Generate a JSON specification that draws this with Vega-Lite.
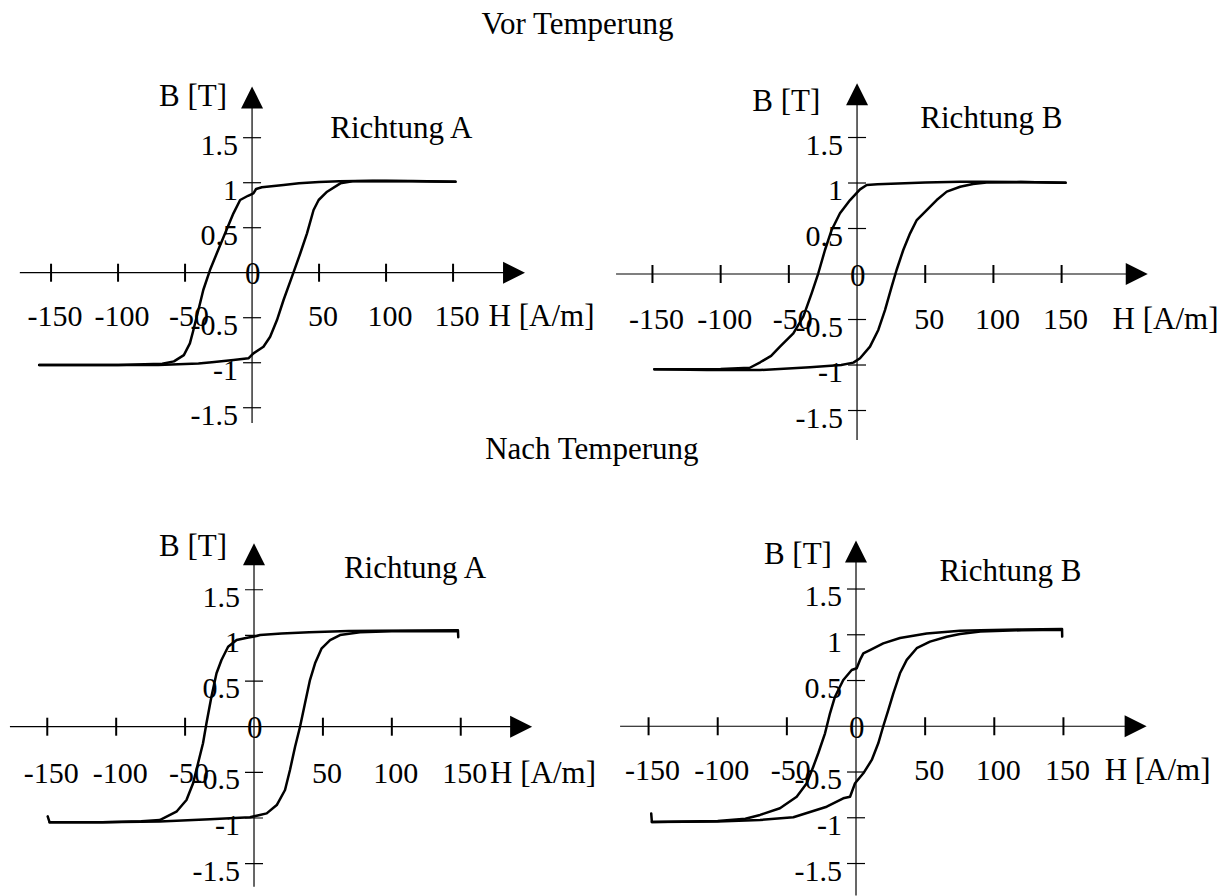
{
  "$schema": "https://vega.github.io/schema/vega-lite/v6.json",
  "padding": 0,
  "background": "white",
  "spacing": 0,
  "columns": 2,
  "bounds": "flush",
  "config": {"view": {"stroke": null}, "concat": {"spacing": 0}},
  "resolve": {"scale": {"x": "independent", "y": "independent"}},
  "datasets": {
    "xt": [{"v": -150, "t": "-150"}, {"v": -100, "t": "-100"}, {"v": -50, "t": "-50"}, {"v": 50, "t": "50"}, {"v": 100, "t": "100"}, {"v": 150, "t": "150"}],
    "yt": [{"v": 1.5, "t": "1.5"}, {"v": 1, "t": "1"}, {"v": 0.5, "t": "0.5"}, {"v": -0.5, "t": "-0.5"}, {"v": -1, "t": "-1"}, {"v": -1.5, "t": "-1.5"}],
    "axes": [
      {"p": 1, "x1": -173.3, "x2": 195.5, "y1": 0, "y2": 0}, {"p": 1, "x1": 0, "x2": 0, "y1": -1.67, "y2": 1.948},
      {"p": 2, "x1": -176.7, "x2": 205.1, "y1": 0, "y2": 0}, {"p": 2, "x1": 0, "x2": 0, "y1": -1.824, "y2": 1.976},
      {"p": 3, "x1": -177.1, "x2": 193.8, "y1": 0, "y2": 0}, {"p": 3, "x1": 0, "x2": 0, "y1": -1.752, "y2": 1.889},
      {"p": 4, "x1": -170.6, "x2": 202.2, "y1": 0, "y2": 0}, {"p": 4, "x1": 0, "x2": 0, "y1": -1.85, "y2": 1.91}
    ],
    "arrows": [
      {"p": 1, "H": 195.5, "B": 0, "d": "r"}, {"p": 1, "H": 0, "B": 1.948, "d": "u"},
      {"p": 2, "H": 205.1, "B": 0, "d": "r"}, {"p": 2, "H": 0, "B": 1.976, "d": "u"},
      {"p": 3, "H": 193.8, "B": 0, "d": "r"}, {"p": 3, "H": 0, "B": 1.889, "d": "u"},
      {"p": 4, "H": 202.2, "B": 0, "d": "r"}, {"p": 4, "H": 0, "B": 1.91, "d": "u"}
    ],
    "tx": [
      {"p": 1, "k": "c", "H": 111.4, "B": 1.602, "t": "Richtung A"},
      {"p": 1, "k": "c", "H": 0.5, "B": -0.03, "t": "0"},
      {"p": 1, "k": "c", "H": 242.9, "B": 2.747, "t": "Vor Temperung"},
      {"p": 1, "k": "r", "H": -18.7, "B": 1.947, "t": "B [T]"},
      {"p": 1, "k": "l", "H": 176.5, "B": 0, "t": "H [A/m]"},
      {"p": 2, "k": "c", "H": 98.5, "B": 1.703, "t": "Richtung B"},
      {"p": 2, "k": "c", "H": 0.5, "B": -0.03, "t": "0"},
      {"p": 2, "k": "r", "H": -26.9, "B": 1.893, "t": "B [T]"},
      {"p": 2, "k": "l", "H": 187.4, "B": 0, "t": "H [A/m]"},
      {"p": 3, "k": "c", "H": 116.8, "B": 1.727, "t": "Richtung A"},
      {"p": 3, "k": "c", "H": 0.5, "B": -0.03, "t": "0"},
      {"p": 3, "k": "c", "H": 245.1, "B": 3.031, "t": "Nach Temperung"},
      {"p": 3, "k": "r", "H": -19.6, "B": 1.963, "t": "B [T]"},
      {"p": 3, "k": "l", "H": 171.3, "B": 0, "t": "H [A/m]"},
      {"p": 4, "k": "c", "H": 111.7, "B": 1.681, "t": "Richtung B"},
      {"p": 4, "k": "c", "H": 0.5, "B": -0.03, "t": "0"},
      {"p": 4, "k": "r", "H": -17.4, "B": 1.872, "t": "B [T]"},
      {"p": 4, "k": "l", "H": 179.8, "B": 0, "t": "H [A/m]"}
    ],
    "curves": [
      {"p":1,"b":"d","i":0,"H":151.8,"B":1.011},{"p":1,"b":"d","i":1,"H":120,"B":1.02},{"p":1,"b":"d","i":2,"H":90,"B":1.022},{"p":1,"b":"d","i":3,"H":65,"B":1.015},{"p":1,"b":"d","i":4,"H":50,"B":1.008},{"p":1,"b":"d","i":5,"H":35,"B":0.995},{"p":1,"b":"d","i":6,"H":23.5,"B":0.974},{"p":1,"b":"d","i":7,"H":7.3,"B":0.949},{"p":1,"b":"d","i":8,"H":3,"B":0.93},{"p":1,"b":"d","i":9,"H":1,"B":0.882},{"p":1,"b":"d","i":10,"H":-3,"B":0.855},{"p":1,"b":"d","i":11,"H":-8.9,"B":0.808},{"p":1,"b":"d","i":12,"H":-13.9,"B":0.66},{"p":1,"b":"d","i":13,"H":-20.1,"B":0.438},{"p":1,"b":"d","i":14,"H":-26.3,"B":0.216},{"p":1,"b":"d","i":15,"H":-31.4,"B":0.03},{"p":1,"b":"d","i":16,"H":-36.4,"B":-0.192},{"p":1,"b":"d","i":17,"H":-38.8,"B":-0.34},{"p":1,"b":"d","i":18,"H":-41.5,"B":-0.5},{"p":1,"b":"d","i":19,"H":-44,"B":-0.65},{"p":1,"b":"d","i":20,"H":-46.4,"B":-0.785},{"p":1,"b":"d","i":21,"H":-50.9,"B":-0.915},{"p":1,"b":"d","i":22,"H":-58.3,"B":-0.985},{"p":1,"b":"d","i":23,"H":-67,"B":-1.012},{"p":1,"b":"d","i":24,"H":-100,"B":-1.024},{"p":1,"b":"d","i":25,"H":-130,"B":-1.026},{"p":1,"b":"d","i":26,"H":-158.9,"B":-1.026},
      {"p":1,"b":"a","i":0,"H":-158.9,"B":-1.026},{"p":1,"b":"a","i":1,"H":-100,"B":-1.026},{"p":1,"b":"a","i":2,"H":-70,"B":-1.024},{"p":1,"b":"a","i":3,"H":-40,"B":-1.008},{"p":1,"b":"a","i":4,"H":-30,"B":-0.995},{"p":1,"b":"a","i":5,"H":-13.9,"B":-0.97},{"p":1,"b":"a","i":6,"H":-2.7,"B":-0.951},{"p":1,"b":"a","i":7,"H":1,"B":-0.896},{"p":1,"b":"a","i":8,"H":8.5,"B":-0.822},{"p":1,"b":"a","i":9,"H":13.5,"B":-0.711},{"p":1,"b":"a","i":10,"H":18.6,"B":-0.526},{"p":1,"b":"a","i":11,"H":23.5,"B":-0.303},{"p":1,"b":"a","i":12,"H":29.8,"B":-0.044},{"p":1,"b":"a","i":13,"H":36,"B":0.216},{"p":1,"b":"a","i":14,"H":41,"B":0.438},{"p":1,"b":"a","i":15,"H":45.9,"B":0.697},{"p":1,"b":"a","i":16,"H":49.7,"B":0.808},{"p":1,"b":"a","i":17,"H":56,"B":0.9},{"p":1,"b":"a","i":18,"H":65.9,"B":0.993},{"p":1,"b":"a","i":19,"H":75,"B":1.015},{"p":1,"b":"a","i":20,"H":100,"B":1.02},{"p":1,"b":"a","i":21,"H":151.8,"B":1.011},
      {"p":2,"b":"d","i":0,"H":152.9,"B":1.004},{"p":2,"b":"d","i":1,"H":120,"B":1.01},{"p":2,"b":"d","i":2,"H":90,"B":1.014},{"p":2,"b":"d","i":3,"H":75.6,"B":1.014},{"p":2,"b":"d","i":4,"H":50,"B":1.005},{"p":2,"b":"d","i":5,"H":30,"B":0.995},{"p":2,"b":"d","i":6,"H":15,"B":0.985},{"p":2,"b":"d","i":7,"H":7.1,"B":0.978},{"p":2,"b":"d","i":8,"H":2.2,"B":0.93},{"p":2,"b":"d","i":9,"H":-5.1,"B":0.813},{"p":2,"b":"d","i":10,"H":-12.5,"B":0.667},{"p":2,"b":"d","i":11,"H":-18.6,"B":0.484},{"p":2,"b":"d","i":12,"H":-23.5,"B":0.264},{"p":2,"b":"d","i":13,"H":-28.4,"B":0.008},{"p":2,"b":"d","i":14,"H":-33.3,"B":-0.212},{"p":2,"b":"d","i":15,"H":-39.4,"B":-0.469},{"p":2,"b":"d","i":16,"H":-46.7,"B":-0.652},{"p":2,"b":"d","i":17,"H":-56.5,"B":-0.798},{"p":2,"b":"d","i":18,"H":-63,"B":-0.9},{"p":2,"b":"d","i":19,"H":-71,"B":-0.97},{"p":2,"b":"d","i":20,"H":-78.6,"B":-1.03},{"p":2,"b":"d","i":21,"H":-100,"B":-1.045},{"p":2,"b":"d","i":22,"H":-148.6,"B":-1.047},
      {"p":2,"b":"a","i":0,"H":-148.6,"B":-1.047},{"p":2,"b":"a","i":1,"H":-110,"B":-1.055},{"p":2,"b":"a","i":2,"H":-71.1,"B":-1.055},{"p":2,"b":"a","i":3,"H":-34.5,"B":-1.025},{"p":2,"b":"a","i":4,"H":-11.6,"B":-1.0},{"p":2,"b":"a","i":5,"H":-2.7,"B":-0.974},{"p":2,"b":"a","i":6,"H":2.2,"B":-0.926},{"p":2,"b":"a","i":7,"H":9.5,"B":-0.798},{"p":2,"b":"a","i":8,"H":15.6,"B":-0.615},{"p":2,"b":"a","i":9,"H":20.5,"B":-0.396},{"p":2,"b":"a","i":10,"H":25.4,"B":-0.139},{"p":2,"b":"a","i":11,"H":29,"B":0.044},{"p":2,"b":"a","i":12,"H":33.9,"B":0.264},{"p":2,"b":"a","i":13,"H":38.9,"B":0.447},{"p":2,"b":"a","i":14,"H":43.8,"B":0.593},{"p":2,"b":"a","i":15,"H":51.1,"B":0.703},{"p":2,"b":"a","i":16,"H":58.4,"B":0.813},{"p":2,"b":"a","i":17,"H":65.8,"B":0.905},{"p":2,"b":"a","i":18,"H":75.6,"B":0.959},{"p":2,"b":"a","i":19,"H":85,"B":0.99},{"p":2,"b":"a","i":20,"H":95,"B":1.005},{"p":2,"b":"a","i":21,"H":120,"B":1.01},{"p":2,"b":"a","i":22,"H":152.9,"B":1.004},
      {"p":3,"b":"d","i":0,"H":148,"B":1.055},{"p":3,"b":"d","i":1,"H":120,"B":1.053},{"p":3,"b":"d","i":2,"H":90,"B":1.05},{"p":3,"b":"d","i":3,"H":68.5,"B":1.047},{"p":3,"b":"d","i":4,"H":40,"B":1.035},{"p":3,"b":"d","i":5,"H":20,"B":1.02},{"p":3,"b":"d","i":6,"H":4.4,"B":1.004},{"p":3,"b":"d","i":7,"H":1.9,"B":0.993},{"p":3,"b":"d","i":8,"H":-5,"B":0.975},{"p":3,"b":"d","i":9,"H":-12.6,"B":0.95},{"p":3,"b":"d","i":10,"H":-18.8,"B":0.876},{"p":3,"b":"d","i":11,"H":-23.6,"B":0.73},{"p":3,"b":"d","i":12,"H":-27.2,"B":0.585},{"p":3,"b":"d","i":13,"H":-30.9,"B":0.329},{"p":3,"b":"d","i":14,"H":-34.5,"B":0.037},{"p":3,"b":"d","i":15,"H":-37,"B":-0.182},{"p":3,"b":"d","i":16,"H":-40.6,"B":-0.401},{"p":3,"b":"d","i":17,"H":-44.2,"B":-0.62},{"p":3,"b":"d","i":18,"H":-49,"B":-0.803},{"p":3,"b":"d","i":19,"H":-56.3,"B":-0.931},{"p":3,"b":"d","i":20,"H":-68.4,"B":-1.022},{"p":3,"b":"d","i":21,"H":-81.8,"B":-1.036},{"p":3,"b":"d","i":22,"H":-110,"B":-1.045},{"p":3,"b":"d","i":23,"H":-148.3,"B":-1.047},
      {"p":3,"b":"a","i":0,"H":-149.7,"B":-0.982},{"p":3,"b":"a","i":1,"H":-148.3,"B":-1.047},{"p":3,"b":"a","i":2,"H":-110,"B":-1.045},{"p":3,"b":"a","i":3,"H":-68.4,"B":-1.038},{"p":3,"b":"a","i":4,"H":-32,"B":-1.014},{"p":3,"b":"a","i":5,"H":-2.9,"B":-0.992},{"p":3,"b":"a","i":6,"H":9.2,"B":-0.949},{"p":3,"b":"a","i":7,"H":16.5,"B":-0.858},{"p":3,"b":"a","i":8,"H":22.5,"B":-0.693},{"p":3,"b":"a","i":9,"H":26.1,"B":-0.474},{"p":3,"b":"a","i":10,"H":29.8,"B":-0.219},{"p":3,"b":"a","i":11,"H":33.4,"B":0},{"p":3,"b":"a","i":12,"H":37,"B":0.256},{"p":3,"b":"a","i":13,"H":40.6,"B":0.511},{"p":3,"b":"a","i":14,"H":44.3,"B":0.694},{"p":3,"b":"a","i":15,"H":49.1,"B":0.858},{"p":3,"b":"a","i":16,"H":55.2,"B":0.949},{"p":3,"b":"a","i":17,"H":62.4,"B":1.004},{"p":3,"b":"a","i":18,"H":76.9,"B":1.035},{"p":3,"b":"a","i":19,"H":100,"B":1.045},{"p":3,"b":"a","i":20,"H":148,"B":1.047},{"p":3,"b":"a","i":21,"H":148.2,"B":0.98},
      {"p":4,"b":"d","i":0,"H":149,"B":1.062},{"p":4,"b":"d","i":1,"H":120,"B":1.058},{"p":4,"b":"d","i":2,"H":90,"B":1.05},{"p":4,"b":"d","i":3,"H":75.2,"B":1.045},{"p":4,"b":"d","i":4,"H":51.1,"B":1.015},{"p":4,"b":"d","i":5,"H":31.8,"B":0.965},{"p":4,"b":"d","i":6,"H":19.7,"B":0.906},{"p":4,"b":"d","i":7,"H":10.1,"B":0.833},{"p":4,"b":"d","i":8,"H":5.3,"B":0.797},{"p":4,"b":"d","i":9,"H":2.9,"B":0.725},{"p":4,"b":"d","i":10,"H":0.5,"B":0.634},{"p":4,"b":"d","i":11,"H":-3.1,"B":0.615},{"p":4,"b":"d","i":12,"H":-9.2,"B":0.506},{"p":4,"b":"d","i":13,"H":-15.2,"B":0.323},{"p":4,"b":"d","i":14,"H":-18.8,"B":0.142},{"p":4,"b":"d","i":15,"H":-22.4,"B":-0.077},{"p":4,"b":"d","i":16,"H":-27.3,"B":-0.295},{"p":4,"b":"d","i":17,"H":-30.9,"B":-0.442},{"p":4,"b":"d","i":18,"H":-35.6,"B":-0.623},{"p":4,"b":"d","i":19,"H":-42.9,"B":-0.77},{"p":4,"b":"d","i":20,"H":-55,"B":-0.896},{"p":4,"b":"d","i":21,"H":-69.4,"B":-0.969},{"p":4,"b":"d","i":22,"H":-80,"B":-1.01},{"p":4,"b":"d","i":23,"H":-100,"B":-1.035},{"p":4,"b":"d","i":24,"H":-147.6,"B":-1.047},
      {"p":4,"b":"a","i":0,"H":-148.1,"B":-0.953},{"p":4,"b":"a","i":1,"H":-147.6,"B":-1.047},{"p":4,"b":"a","i":2,"H":-100,"B":-1.04},{"p":4,"b":"a","i":3,"H":-69.4,"B":-1.024},{"p":4,"b":"a","i":4,"H":-45.3,"B":-0.995},{"p":4,"b":"a","i":5,"H":-21.2,"B":-0.879},{"p":4,"b":"a","i":6,"H":-9.2,"B":-0.787},{"p":4,"b":"a","i":7,"H":-4.3,"B":-0.77},{"p":4,"b":"a","i":8,"H":-0.7,"B":-0.623},{"p":4,"b":"a","i":9,"H":5.3,"B":-0.514},{"p":4,"b":"a","i":10,"H":11.4,"B":-0.368},{"p":4,"b":"a","i":11,"H":16.1,"B":-0.186},{"p":4,"b":"a","i":12,"H":19.7,"B":0},{"p":4,"b":"a","i":13,"H":23.4,"B":0.178},{"p":4,"b":"a","i":14,"H":27,"B":0.36},{"p":4,"b":"a","i":15,"H":31.8,"B":0.579},{"p":4,"b":"a","i":16,"H":36.7,"B":0.725},{"p":4,"b":"a","i":17,"H":43.9,"B":0.853},{"p":4,"b":"a","i":18,"H":53.5,"B":0.925},{"p":4,"b":"a","i":19,"H":65.6,"B":0.979},{"p":4,"b":"a","i":20,"H":75.2,"B":1.009},{"p":4,"b":"a","i":21,"H":90,"B":1.035},{"p":4,"b":"a","i":22,"H":120,"B":1.05},{"p":4,"b":"a","i":23,"H":149,"B":1.055},{"p":4,"b":"a","i":24,"H":149.1,"B":0.98}
    ]
  },
  "concat": [
    {
      "width": 614, "height": 445,
      "layer": [
        {"data": {"name": "curves"}, "transform": [{"filter": "datum.p == 1"}], "mark": {"type": "line", "color": "black", "strokeWidth": 2.5, "strokeJoin": "round", "strokeCap": "round"}, "encoding": {"x": {"field": "H", "type": "quantitative", "scale": {"domain": [-188.1, 270.1], "nice": false, "zero": false}, "axis": null}, "y": {"field": "B", "type": "quantitative", "scale": {"domain": [-1.914, 3.03], "nice": false, "zero": false}, "axis": null}, "detail": {"field": "b"}, "order": {"field": "i", "type": "quantitative"}}},
        {"data": {"name": "axes"}, "transform": [{"filter": "datum.p == 1"}], "mark": {"type": "rule", "color": "black", "strokeWidth": 1.2}, "encoding": {"x": {"field": "x1", "type": "quantitative", "scale": {"domain": [-188.1, 270.1], "nice": false, "zero": false}, "axis": null}, "x2": {"field": "x2"}, "y": {"field": "y1", "type": "quantitative", "scale": {"domain": [-1.914, 3.03], "nice": false, "zero": false}, "axis": null}, "y2": {"field": "y2"}}},
        {"data": {"name": "xt"}, "mark": {"type": "tick", "orient": "vertical", "size": 18, "thickness": 2, "color": "black", "opacity": 1}, "encoding": {"x": {"field": "v", "type": "quantitative", "scale": {"domain": [-188.1, 270.1], "nice": false, "zero": false}, "axis": null}, "y": {"datum": 0, "type": "quantitative", "scale": {"domain": [-1.914, 3.03], "nice": false, "zero": false}, "axis": null}}},
        {"data": {"name": "yt"}, "mark": {"type": "tick", "orient": "horizontal", "size": 18, "thickness": 1.2, "color": "black", "opacity": 1}, "encoding": {"x": {"datum": 0, "type": "quantitative", "scale": {"domain": [-188.1, 270.1], "nice": false, "zero": false}, "axis": null}, "y": {"field": "v", "type": "quantitative", "scale": {"domain": [-1.914, 3.03], "nice": false, "zero": false}, "axis": null}}},
        {"data": {"name": "arrows"}, "transform": [{"filter": "datum.p == 1"}], "mark": {"type": "point", "filled": true, "color": "black", "size": 484, "opacity": 1, "strokeWidth": 0}, "encoding": {"x": {"field": "H", "type": "quantitative", "scale": {"domain": [-188.1, 270.1], "nice": false, "zero": false}, "axis": null}, "y": {"field": "B", "type": "quantitative", "scale": {"domain": [-1.914, 3.03], "nice": false, "zero": false}, "axis": null}, "shape": {"field": "d", "type": "nominal", "scale": {"domain": ["r", "u"], "range": ["M-1,-1L1,0L-1,1Z", "M0,-1L1,1L-1,1Z"]}, "legend": null}}},
        {"data": {"name": "xt"}, "mark": {"type": "text", "font": "Liberation Serif", "fontSize": 30, "color": "black", "align": "center", "baseline": "middle", "dx": 4, "dy": 44}, "encoding": {"x": {"field": "v", "type": "quantitative", "scale": {"domain": [-188.1, 270.1], "nice": false, "zero": false}, "axis": null}, "y": {"datum": 0, "type": "quantitative", "scale": {"domain": [-1.914, 3.03], "nice": false, "zero": false}, "axis": null}, "text": {"field": "t"}}},
        {"data": {"name": "yt"}, "mark": {"type": "text", "font": "Liberation Serif", "fontSize": 30, "color": "black", "align": "right", "baseline": "middle", "dx": -14, "dy": 8}, "encoding": {"x": {"datum": 0, "type": "quantitative", "scale": {"domain": [-188.1, 270.1], "nice": false, "zero": false}, "axis": null}, "y": {"field": "v", "type": "quantitative", "scale": {"domain": [-1.914, 3.03], "nice": false, "zero": false}, "axis": null}, "text": {"field": "t"}}},
        {"data": {"name": "tx"}, "transform": [{"filter": "datum.p == 1 && datum.k == 'c'"}], "mark": {"type": "text", "font": "Liberation Serif", "fontSize": 31, "color": "black", "align": "center", "baseline": "middle"}, "encoding": {"x": {"field": "H", "type": "quantitative", "scale": {"domain": [-188.1, 270.1], "nice": false, "zero": false}, "axis": null}, "y": {"field": "B", "type": "quantitative", "scale": {"domain": [-1.914, 3.03], "nice": false, "zero": false}, "axis": null}, "text": {"field": "t"}}},
        {"data": {"name": "tx"}, "transform": [{"filter": "datum.p == 1 && datum.k == 'r'"}], "mark": {"type": "text", "font": "Liberation Serif", "fontSize": 31, "color": "black", "align": "right", "baseline": "middle"}, "encoding": {"x": {"field": "H", "type": "quantitative", "scale": {"domain": [-188.1, 270.1], "nice": false, "zero": false}, "axis": null}, "y": {"field": "B", "type": "quantitative", "scale": {"domain": [-1.914, 3.03], "nice": false, "zero": false}, "axis": null}, "text": {"field": "t"}}},
        {"data": {"name": "tx"}, "transform": [{"filter": "datum.p == 1 && datum.k == 'l'"}], "mark": {"type": "text", "font": "Liberation Serif", "fontSize": 31, "color": "black", "align": "left", "baseline": "middle", "dy": 44}, "encoding": {"x": {"field": "H", "type": "quantitative", "scale": {"domain": [-188.1, 270.1], "nice": false, "zero": false}, "axis": null}, "y": {"field": "B", "type": "quantitative", "scale": {"domain": [-1.914, 3.03], "nice": false, "zero": false}, "axis": null}, "text": {"field": "t"}}}
      ]
    },
    {
      "width": 614, "height": 445,
      "layer": [
        {"data": {"name": "curves"}, "transform": [{"filter": "datum.p == 2"}], "mark": {"type": "line", "color": "black", "strokeWidth": 2.5, "strokeJoin": "round", "strokeCap": "round"}, "encoding": {"x": {"field": "H", "type": "quantitative", "scale": {"domain": [-178.2, 272.0], "nice": false, "zero": false}, "axis": null}, "y": {"field": "B", "type": "quantitative", "scale": {"domain": [-1.879, 3.011], "nice": false, "zero": false}, "axis": null}, "detail": {"field": "b"}, "order": {"field": "i", "type": "quantitative"}}},
        {"data": {"name": "axes"}, "transform": [{"filter": "datum.p == 2"}], "mark": {"type": "rule", "color": "black", "strokeWidth": 1.2}, "encoding": {"x": {"field": "x1", "type": "quantitative", "scale": {"domain": [-178.2, 272.0], "nice": false, "zero": false}, "axis": null}, "x2": {"field": "x2"}, "y": {"field": "y1", "type": "quantitative", "scale": {"domain": [-1.879, 3.011], "nice": false, "zero": false}, "axis": null}, "y2": {"field": "y2"}}},
        {"data": {"name": "xt"}, "mark": {"type": "tick", "orient": "vertical", "size": 18, "thickness": 2, "color": "black", "opacity": 1}, "encoding": {"x": {"field": "v", "type": "quantitative", "scale": {"domain": [-178.2, 272.0], "nice": false, "zero": false}, "axis": null}, "y": {"datum": 0, "type": "quantitative", "scale": {"domain": [-1.879, 3.011], "nice": false, "zero": false}, "axis": null}}},
        {"data": {"name": "yt"}, "mark": {"type": "tick", "orient": "horizontal", "size": 18, "thickness": 1.2, "color": "black", "opacity": 1}, "encoding": {"x": {"datum": 0, "type": "quantitative", "scale": {"domain": [-178.2, 272.0], "nice": false, "zero": false}, "axis": null}, "y": {"field": "v", "type": "quantitative", "scale": {"domain": [-1.879, 3.011], "nice": false, "zero": false}, "axis": null}}},
        {"data": {"name": "arrows"}, "transform": [{"filter": "datum.p == 2"}], "mark": {"type": "point", "filled": true, "color": "black", "size": 484, "opacity": 1, "strokeWidth": 0}, "encoding": {"x": {"field": "H", "type": "quantitative", "scale": {"domain": [-178.2, 272.0], "nice": false, "zero": false}, "axis": null}, "y": {"field": "B", "type": "quantitative", "scale": {"domain": [-1.879, 3.011], "nice": false, "zero": false}, "axis": null}, "shape": {"field": "d", "type": "nominal", "scale": {"domain": ["r", "u"], "range": ["M-1,-1L1,0L-1,1Z", "M0,-1L1,1L-1,1Z"]}, "legend": null}}},
        {"data": {"name": "xt"}, "mark": {"type": "text", "font": "Liberation Serif", "fontSize": 30, "color": "black", "align": "center", "baseline": "middle", "dx": 4, "dy": 46}, "encoding": {"x": {"field": "v", "type": "quantitative", "scale": {"domain": [-178.2, 272.0], "nice": false, "zero": false}, "axis": null}, "y": {"datum": 0, "type": "quantitative", "scale": {"domain": [-1.879, 3.011], "nice": false, "zero": false}, "axis": null}, "text": {"field": "t"}}},
        {"data": {"name": "yt"}, "mark": {"type": "text", "font": "Liberation Serif", "fontSize": 30, "color": "black", "align": "right", "baseline": "middle", "dx": -14, "dy": 8}, "encoding": {"x": {"datum": 0, "type": "quantitative", "scale": {"domain": [-178.2, 272.0], "nice": false, "zero": false}, "axis": null}, "y": {"field": "v", "type": "quantitative", "scale": {"domain": [-1.879, 3.011], "nice": false, "zero": false}, "axis": null}, "text": {"field": "t"}}},
        {"data": {"name": "tx"}, "transform": [{"filter": "datum.p == 2 && datum.k == 'c'"}], "mark": {"type": "text", "font": "Liberation Serif", "fontSize": 31, "color": "black", "align": "center", "baseline": "middle"}, "encoding": {"x": {"field": "H", "type": "quantitative", "scale": {"domain": [-178.2, 272.0], "nice": false, "zero": false}, "axis": null}, "y": {"field": "B", "type": "quantitative", "scale": {"domain": [-1.879, 3.011], "nice": false, "zero": false}, "axis": null}, "text": {"field": "t"}}},
        {"data": {"name": "tx"}, "transform": [{"filter": "datum.p == 2 && datum.k == 'r'"}], "mark": {"type": "text", "font": "Liberation Serif", "fontSize": 31, "color": "black", "align": "right", "baseline": "middle"}, "encoding": {"x": {"field": "H", "type": "quantitative", "scale": {"domain": [-178.2, 272.0], "nice": false, "zero": false}, "axis": null}, "y": {"field": "B", "type": "quantitative", "scale": {"domain": [-1.879, 3.011], "nice": false, "zero": false}, "axis": null}, "text": {"field": "t"}}},
        {"data": {"name": "tx"}, "transform": [{"filter": "datum.p == 2 && datum.k == 'l'"}], "mark": {"type": "text", "font": "Liberation Serif", "fontSize": 31, "color": "black", "align": "left", "baseline": "middle", "dy": 46}, "encoding": {"x": {"field": "H", "type": "quantitative", "scale": {"domain": [-178.2, 272.0], "nice": false, "zero": false}, "axis": null}, "y": {"field": "B", "type": "quantitative", "scale": {"domain": [-1.879, 3.011], "nice": false, "zero": false}, "axis": null}, "text": {"field": "t"}}}
      ]
    },
    {
      "width": 614, "height": 451,
      "layer": [
        {"data": {"name": "curves"}, "transform": [{"filter": "datum.p == 3"}], "mark": {"type": "line", "color": "black", "strokeWidth": 2.5, "strokeJoin": "round", "strokeCap": "round"}, "encoding": {"x": {"field": "H", "type": "quantitative", "scale": {"domain": [-184.3, 261.2], "nice": false, "zero": false}, "axis": null}, "y": {"field": "B", "type": "quantitative", "scale": {"domain": [-1.854, 3.085], "nice": false, "zero": false}, "axis": null}, "detail": {"field": "b"}, "order": {"field": "i", "type": "quantitative"}}},
        {"data": {"name": "axes"}, "transform": [{"filter": "datum.p == 3"}], "mark": {"type": "rule", "color": "black", "strokeWidth": 1.2}, "encoding": {"x": {"field": "x1", "type": "quantitative", "scale": {"domain": [-184.3, 261.2], "nice": false, "zero": false}, "axis": null}, "x2": {"field": "x2"}, "y": {"field": "y1", "type": "quantitative", "scale": {"domain": [-1.854, 3.085], "nice": false, "zero": false}, "axis": null}, "y2": {"field": "y2"}}},
        {"data": {"name": "xt"}, "mark": {"type": "tick", "orient": "vertical", "size": 18, "thickness": 2, "color": "black", "opacity": 1}, "encoding": {"x": {"field": "v", "type": "quantitative", "scale": {"domain": [-184.3, 261.2], "nice": false, "zero": false}, "axis": null}, "y": {"datum": 0, "type": "quantitative", "scale": {"domain": [-1.854, 3.085], "nice": false, "zero": false}, "axis": null}}},
        {"data": {"name": "yt"}, "mark": {"type": "tick", "orient": "horizontal", "size": 18, "thickness": 1.2, "color": "black", "opacity": 1}, "encoding": {"x": {"datum": 0, "type": "quantitative", "scale": {"domain": [-184.3, 261.2], "nice": false, "zero": false}, "axis": null}, "y": {"field": "v", "type": "quantitative", "scale": {"domain": [-1.854, 3.085], "nice": false, "zero": false}, "axis": null}}},
        {"data": {"name": "arrows"}, "transform": [{"filter": "datum.p == 3"}], "mark": {"type": "point", "filled": true, "color": "black", "size": 484, "opacity": 1, "strokeWidth": 0}, "encoding": {"x": {"field": "H", "type": "quantitative", "scale": {"domain": [-184.3, 261.2], "nice": false, "zero": false}, "axis": null}, "y": {"field": "B", "type": "quantitative", "scale": {"domain": [-1.854, 3.085], "nice": false, "zero": false}, "axis": null}, "shape": {"field": "d", "type": "nominal", "scale": {"domain": ["r", "u"], "range": ["M-1,-1L1,0L-1,1Z", "M0,-1L1,1L-1,1Z"]}, "legend": null}}},
        {"data": {"name": "xt"}, "mark": {"type": "text", "font": "Liberation Serif", "fontSize": 30, "color": "black", "align": "center", "baseline": "middle", "dx": 4, "dy": 47}, "encoding": {"x": {"field": "v", "type": "quantitative", "scale": {"domain": [-184.3, 261.2], "nice": false, "zero": false}, "axis": null}, "y": {"datum": 0, "type": "quantitative", "scale": {"domain": [-1.854, 3.085], "nice": false, "zero": false}, "axis": null}, "text": {"field": "t"}}},
        {"data": {"name": "yt"}, "mark": {"type": "text", "font": "Liberation Serif", "fontSize": 30, "color": "black", "align": "right", "baseline": "middle", "dx": -14, "dy": 8}, "encoding": {"x": {"datum": 0, "type": "quantitative", "scale": {"domain": [-184.3, 261.2], "nice": false, "zero": false}, "axis": null}, "y": {"field": "v", "type": "quantitative", "scale": {"domain": [-1.854, 3.085], "nice": false, "zero": false}, "axis": null}, "text": {"field": "t"}}},
        {"data": {"name": "tx"}, "transform": [{"filter": "datum.p == 3 && datum.k == 'c'"}], "mark": {"type": "text", "font": "Liberation Serif", "fontSize": 31, "color": "black", "align": "center", "baseline": "middle"}, "encoding": {"x": {"field": "H", "type": "quantitative", "scale": {"domain": [-184.3, 261.2], "nice": false, "zero": false}, "axis": null}, "y": {"field": "B", "type": "quantitative", "scale": {"domain": [-1.854, 3.085], "nice": false, "zero": false}, "axis": null}, "text": {"field": "t"}}},
        {"data": {"name": "tx"}, "transform": [{"filter": "datum.p == 3 && datum.k == 'r'"}], "mark": {"type": "text", "font": "Liberation Serif", "fontSize": 31, "color": "black", "align": "right", "baseline": "middle"}, "encoding": {"x": {"field": "H", "type": "quantitative", "scale": {"domain": [-184.3, 261.2], "nice": false, "zero": false}, "axis": null}, "y": {"field": "B", "type": "quantitative", "scale": {"domain": [-1.854, 3.085], "nice": false, "zero": false}, "axis": null}, "text": {"field": "t"}}},
        {"data": {"name": "tx"}, "transform": [{"filter": "datum.p == 3 && datum.k == 'l'"}], "mark": {"type": "text", "font": "Liberation Serif", "fontSize": 31, "color": "black", "align": "left", "baseline": "middle", "dy": 47}, "encoding": {"x": {"field": "H", "type": "quantitative", "scale": {"domain": [-184.3, 261.2], "nice": false, "zero": false}, "axis": null}, "y": {"field": "B", "type": "quantitative", "scale": {"domain": [-1.854, 3.085], "nice": false, "zero": false}, "axis": null}, "text": {"field": "t"}}}
      ]
    },
    {
      "width": 614, "height": 451,
      "layer": [
        {"data": {"name": "curves"}, "transform": [{"filter": "datum.p == 4"}], "mark": {"type": "line", "color": "black", "strokeWidth": 2.5, "strokeJoin": "round", "strokeCap": "round"}, "encoding": {"x": {"field": "H", "type": "quantitative", "scale": {"domain": [-175.0, 269.0], "nice": false, "zero": false}, "axis": null}, "y": {"field": "B", "type": "quantitative", "scale": {"domain": [-1.855, 3.074], "nice": false, "zero": false}, "axis": null}, "detail": {"field": "b"}, "order": {"field": "i", "type": "quantitative"}}},
        {"data": {"name": "axes"}, "transform": [{"filter": "datum.p == 4"}], "mark": {"type": "rule", "color": "black", "strokeWidth": 1.2}, "encoding": {"x": {"field": "x1", "type": "quantitative", "scale": {"domain": [-175.0, 269.0], "nice": false, "zero": false}, "axis": null}, "x2": {"field": "x2"}, "y": {"field": "y1", "type": "quantitative", "scale": {"domain": [-1.855, 3.074], "nice": false, "zero": false}, "axis": null}, "y2": {"field": "y2"}}},
        {"data": {"name": "xt"}, "mark": {"type": "tick", "orient": "vertical", "size": 18, "thickness": 2, "color": "black", "opacity": 1}, "encoding": {"x": {"field": "v", "type": "quantitative", "scale": {"domain": [-175.0, 269.0], "nice": false, "zero": false}, "axis": null}, "y": {"datum": 0, "type": "quantitative", "scale": {"domain": [-1.855, 3.074], "nice": false, "zero": false}, "axis": null}}},
        {"data": {"name": "yt"}, "mark": {"type": "tick", "orient": "horizontal", "size": 18, "thickness": 1.2, "color": "black", "opacity": 1}, "encoding": {"x": {"datum": 0, "type": "quantitative", "scale": {"domain": [-175.0, 269.0], "nice": false, "zero": false}, "axis": null}, "y": {"field": "v", "type": "quantitative", "scale": {"domain": [-1.855, 3.074], "nice": false, "zero": false}, "axis": null}}},
        {"data": {"name": "arrows"}, "transform": [{"filter": "datum.p == 4"}], "mark": {"type": "point", "filled": true, "color": "black", "size": 484, "opacity": 1, "strokeWidth": 0}, "encoding": {"x": {"field": "H", "type": "quantitative", "scale": {"domain": [-175.0, 269.0], "nice": false, "zero": false}, "axis": null}, "y": {"field": "B", "type": "quantitative", "scale": {"domain": [-1.855, 3.074], "nice": false, "zero": false}, "axis": null}, "shape": {"field": "d", "type": "nominal", "scale": {"domain": ["r", "u"], "range": ["M-1,-1L1,0L-1,1Z", "M0,-1L1,1L-1,1Z"]}, "legend": null}}},
        {"data": {"name": "xt"}, "mark": {"type": "text", "font": "Liberation Serif", "fontSize": 30, "color": "black", "align": "center", "baseline": "middle", "dx": 4, "dy": 45}, "encoding": {"x": {"field": "v", "type": "quantitative", "scale": {"domain": [-175.0, 269.0], "nice": false, "zero": false}, "axis": null}, "y": {"datum": 0, "type": "quantitative", "scale": {"domain": [-1.855, 3.074], "nice": false, "zero": false}, "axis": null}, "text": {"field": "t"}}},
        {"data": {"name": "yt"}, "mark": {"type": "text", "font": "Liberation Serif", "fontSize": 30, "color": "black", "align": "right", "baseline": "middle", "dx": -14, "dy": 8}, "encoding": {"x": {"datum": 0, "type": "quantitative", "scale": {"domain": [-175.0, 269.0], "nice": false, "zero": false}, "axis": null}, "y": {"field": "v", "type": "quantitative", "scale": {"domain": [-1.855, 3.074], "nice": false, "zero": false}, "axis": null}, "text": {"field": "t"}}},
        {"data": {"name": "tx"}, "transform": [{"filter": "datum.p == 4 && datum.k == 'c'"}], "mark": {"type": "text", "font": "Liberation Serif", "fontSize": 31, "color": "black", "align": "center", "baseline": "middle"}, "encoding": {"x": {"field": "H", "type": "quantitative", "scale": {"domain": [-175.0, 269.0], "nice": false, "zero": false}, "axis": null}, "y": {"field": "B", "type": "quantitative", "scale": {"domain": [-1.855, 3.074], "nice": false, "zero": false}, "axis": null}, "text": {"field": "t"}}},
        {"data": {"name": "tx"}, "transform": [{"filter": "datum.p == 4 && datum.k == 'r'"}], "mark": {"type": "text", "font": "Liberation Serif", "fontSize": 31, "color": "black", "align": "right", "baseline": "middle"}, "encoding": {"x": {"field": "H", "type": "quantitative", "scale": {"domain": [-175.0, 269.0], "nice": false, "zero": false}, "axis": null}, "y": {"field": "B", "type": "quantitative", "scale": {"domain": [-1.855, 3.074], "nice": false, "zero": false}, "axis": null}, "text": {"field": "t"}}},
        {"data": {"name": "tx"}, "transform": [{"filter": "datum.p == 4 && datum.k == 'l'"}], "mark": {"type": "text", "font": "Liberation Serif", "fontSize": 31, "color": "black", "align": "left", "baseline": "middle", "dy": 45}, "encoding": {"x": {"field": "H", "type": "quantitative", "scale": {"domain": [-175.0, 269.0], "nice": false, "zero": false}, "axis": null}, "y": {"field": "B", "type": "quantitative", "scale": {"domain": [-1.855, 3.074], "nice": false, "zero": false}, "axis": null}, "text": {"field": "t"}}}
      ]
    }
  ]
}
